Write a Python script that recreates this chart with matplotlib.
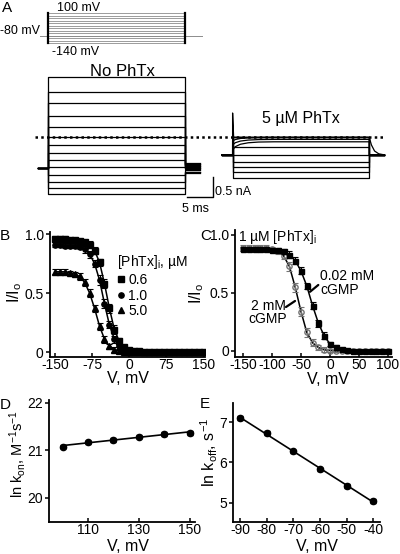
import numpy as np
import matplotlib
matplotlib.use("Agg")
import matplotlib.pyplot as plt

plt.rcParams['font.family'] = ['Liberation Sans', 'DejaVu Sans']
plt.rcParams['mathtext.fontset'] = 'custom'
plt.rcParams['mathtext.rm'] = 'Liberation Sans'
plt.rcParams['mathtext.it'] = 'Liberation Sans:italic'
plt.rcParams['axes.unicode_minus'] = False

# ---------------- data ----------------
# A: voltage protocol and current traces
step_mV = [100, 80, 60, 40, 20, 0, -20, -40, -60, -80, -100, -120, -140]
hold_mV = -80
pulse_ms = 26.3
noph_nA = [2.29, 1.92, 1.63, 1.32, 1.04, 0.79, 0.58, 0.39, 0.21, 0.04,
           -0.17, -0.34, -0.49, -0.65]
noph_tail = [0.13, 0.12, 0.10, 0.09, 0.07, 0.05, 0.03, 0.01, 0.0, -0.02,
             -0.05, -0.08, -0.10, -0.12]
phtx_nA = [0.44, 0.44, 0.44, 0.44, 0.44, 0.39, 0.33, 0.21, 0.0, -0.17,
           -0.29, -0.42, -0.57]
phtx_start = [0.44, 0.44, 0.44, 0.44, 0.35, 0.25, 0.125, 0.21, 0.0, -0.17,
              -0.29, -0.42, -0.57]
relax_ms = [0, 0.5, 1.5, 3, 5, 8]
relax_frac = [0, 0.4, 0.7, 0.88, 0.97, 1.0]
spike_nA = 1.05
tail_ms = [0, 0.4, 1.0, 1.8, 3.0]
tail_nA = [0.43, 0.25, 0.10, 0.03, 0.0]
scale_ms = 5
scale_nA = 0.5

# B: I/Io vs V for three [PhTx]
V_B = [-150, -140, -130, -120, -110, -100, -90, -80, -70, -60, -50, -40, -30,
       -20, -10, 0, 10, 20, 30, 40, 50, 60, 70, 80, 90, 100, 110, 120, 130,
       140, 150]
I_06 = [0.96, 0.96, 0.96, 0.95, 0.95, 0.94, 0.93, 0.91, 0.86, 0.76, 0.58,
        0.37, 0.19, 0.09, 0.04, 0.02, 0.01, 0.01, 0.0, 0.0, 0.0, 0.0, 0.0,
        0.0, 0.0, 0.0, 0.0, 0.0, 0.0, 0.0, 0.0]
e_06 = [0.02, 0.02, 0.02, 0.02, 0.02, 0.02, 0.02, 0.03, 0.03, 0.03, 0.04,
        0.04, 0.04, 0.03, 0.02, 0.01, 0.01, 0.01, 0.01, 0.01, 0.01, 0.01,
        0.01, 0.01, 0.01, 0.01, 0.01, 0.01, 0.01, 0.01, 0.01]
I_10 = [0.91, 0.91, 0.90, 0.90, 0.90, 0.89, 0.87, 0.83, 0.75, 0.61, 0.41,
        0.23, 0.11, 0.05, 0.02, 0.01, 0.0, 0.0, 0.0, 0.0, 0.0, 0.0, 0.0,
        0.0, 0.0, 0.0, 0.0, 0.0, 0.0, 0.0, 0.0]
e_10 = [0.02, 0.02, 0.02, 0.02, 0.02, 0.02, 0.03, 0.03, 0.03, 0.04, 0.04,
        0.03, 0.03, 0.02, 0.02, 0.01, 0.01, 0.01, 0.01, 0.01, 0.01, 0.01,
        0.01, 0.01, 0.01, 0.01, 0.01, 0.01, 0.01, 0.01, 0.01]
I_50 = [0.68, 0.68, 0.68, 0.67, 0.66, 0.64, 0.59, 0.50, 0.37, 0.22, 0.11,
        0.05, 0.02, 0.01, 0.0, 0.0, 0.0, 0.0, 0.0, 0.0, 0.0, 0.0, 0.0,
        0.0, 0.0, 0.0, 0.0, 0.0, 0.0, 0.0, 0.0]
e_50 = [0.02, 0.02, 0.02, 0.02, 0.02, 0.03, 0.03, 0.03, 0.03, 0.03, 0.03,
        0.02, 0.02, 0.01, 0.01, 0.01, 0.01, 0.01, 0.01, 0.01, 0.01, 0.01,
        0.01, 0.01, 0.01, 0.01, 0.01, 0.01, 0.01, 0.01, 0.01]

# C: 1 uM PhTx, two cGMP concentrations
V_C = [-150, -140, -130, -120, -110, -100, -90, -80, -70, -60, -50, -40, -30,
       -20, -10, 0, 10, 20, 30, 40, 50, 60, 70, 80, 90, 100]
I_low = [0.88, 0.88, 0.88, 0.88, 0.88, 0.87, 0.87, 0.86, 0.83, 0.78, 0.69,
         0.56, 0.39, 0.24, 0.13, 0.06, 0.03, 0.015, 0.007, 0.003, 0.0, 0.0,
         0.0, 0.0, 0.0, 0.0]
e_low = [0.02, 0.02, 0.02, 0.02, 0.02, 0.02, 0.02, 0.02, 0.03, 0.03, 0.03,
         0.03, 0.03, 0.03, 0.03, 0.02, 0.02, 0.01, 0.01, 0.01, 0.01, 0.01,
         0.01, 0.01, 0.01, 0.01]
I_high = [0.89, 0.89, 0.89, 0.89, 0.89, 0.88, 0.86, 0.82, 0.73, 0.55, 0.34,
          0.16, 0.07, 0.03, 0.01, 0.004, 0.0, 0.0, 0.0, 0.0, 0.0, 0.0, 0.0,
          0.0, 0.0, 0.0]
e_high = [0.02, 0.02, 0.02, 0.02, 0.02, 0.02, 0.02, 0.03, 0.04, 0.04, 0.04,
          0.04, 0.03, 0.02, 0.02, 0.01, 0.01, 0.01, 0.01, 0.01, 0.01, 0.01,
          0.01, 0.01, 0.01, 0.01]

# D: ln kon vs V
V_D = [100, 110, 120, 130, 140, 150]
lnkon = [21.08, 21.17, 21.22, 21.29, 21.34, 21.37]
e_kon = [0.04, 0.03, 0.04, 0.03, 0.04, 0.04]

# E: ln koff vs V
V_E = [-90, -80, -70, -60, -50, -40]
lnkoff = [7.10, 6.74, 6.27, 5.83, 5.41, 5.03]
e_koff = [0.05, 0.05, 0.04, 0.04, 0.05, 0.05]

W, H = 400, 554


def fx(px):
    return px / W


def fy(py):
    return 1 - py / H


fig = plt.figure(figsize=(4, 5.54), dpi=100)

# ---------------- panel A ----------------
t_lim = (-48 / 5.2, 352 / 5.2)
axP = fig.add_axes([0, fy(55), 1, 55 / H])
axP.set_xlim(t_lim)
axP.set_ylim(-236, 204)
axP.axis('off')
for v in step_mV:
    axP.plot([0, pulse_ms], [v, v], color='0.55', lw=0.6)
axP.plot([-1.6, pulse_ms + 3.4], [hold_mV, hold_mV], color='0.55', lw=0.7)
for t in [0, pulse_ms]:
    axP.plot([t, t], [min(step_mV), max(step_mV)], color='k', lw=1.6)

axA = fig.add_axes([0, fy(215), 1, 160 / H])
axA.set_xlim(t_lim)
axA.set_ylim((168.3 - 215) / 40, (168.3 - 55) / 40)
axA.axis('off')

# no toxin
for lev, tl in zip(noph_nA, noph_tail):
    t = [-1.9, 0, 0, pulse_ms, pulse_ms, pulse_ms + 2.9]
    y = [0, 0, lev, lev, tl, tl]
    axA.plot(t, y, color='k', lw=0.9)

# 5 uM PhTx, shifted right and up
T0 = 35.5
DY = 0.3325
for i, (lev, st) in enumerate(zip(phtx_nA, phtx_start)):
    t = [T0 - 2.1, T0]
    y = [0, 0]
    if i == 0:
        t += [T0, T0 + 0.2]
        y += [spike_nA, lev]
    t += [T0 + r for r in relax_ms] + [T0 + pulse_ms]
    y += [st + (lev - st) * f for f in relax_frac] + [lev]
    if i == 0:
        t += [T0 + pulse_ms + s for s in tail_ms]
        y += tail_nA
    else:
        t += [T0 + pulse_ms, T0 + pulse_ms + 2.8]
        y += [0, 0]
    axA.plot(t, np.array(y) + DY, color='k', lw=0.9)

dot_y = DY + phtx_nA[0]
axA.plot([-2.5, 64.4], [dot_y, dot_y], color='k', lw=1.8, ls=(0, (1, 1.3)))

# scale bar
sb_t = (212.7 - 48) / 5.2
sb_y = (168.3 - 196.7) / 40
axA.plot([sb_t - scale_ms, sb_t, sb_t], [sb_y, sb_y, sb_y + scale_nA],
         color='k', lw=1.0)

fig.text(fx(2), fy(8), 'A', fontsize=11, va='center')
fig.text(fx(57), fy(8), '100 mV', fontsize=9, va='center')
fig.text(fx(0), fy(31), '-80 mV', fontsize=9, va='center')
fig.text(fx(52), fy(52), '-140 mV', fontsize=9, va='center')
fig.text(fx(122), fy(72), 'No PhTx', fontsize=12, ha='center', va='center')
fig.text(fx(301), fy(118), '5 µM PhTx', fontsize=11.5, ha='center', va='center')
fig.text(fx(215), fy(192), '0.5 nA', fontsize=9, va='center')
fig.text(fx(195), fy(209), '5 ms', fontsize=9, ha='center', va='center')


def style(ax):
    for s in ['top', 'right']:
        ax.spines[s].set_visible(False)
    for s in ['left', 'bottom']:
        ax.spines[s].set_linewidth(1.3)
    ax.tick_params(labelsize=10, width=1.1, length=3, pad=1.5)
    ax.tick_params(axis='x', direction='in', pad=1.0)


ebkw = dict(elinewidth=0.8, capsize=2, capthick=0.8)

# ---------------- panel B ----------------
axB = fig.add_axes([fx(50), fy(357), 155 / W, 125 / H])
style(axB)
axB.set_xlim(-160, 153)
axB.set_ylim(-0.042, 1.017)
hb = []
for I, e, m in [(I_06, e_06, 's'), (I_10, e_10, 'o'), (I_50, e_50, '^')]:
    axB.plot(V_B, I, color='k', lw=1.1)
    eb = axB.errorbar(V_B, I, yerr=e, fmt=m, ms=3.8, color='k', ecolor='k', **ebkw)
    hb.append(eb[0])
axB.set_xticks([-150, -75, 0, 75, 150])
axB.set_yticks([0, 0.5, 1.0])
axB.set_yticklabels(['0', '0.5', '1.0'])
axB.set_xlabel('V, mV', fontsize=11.5)
axB.set_ylabel('I/I$_\\mathrm{o}$', fontsize=11.5)
axB.xaxis.set_label_coords(0.503, -0.115)
axB.yaxis.set_label_coords(-0.165, 0.52)
axB.legend(hb, ['0.6', '1.0', '5.0'], title='[PhTx]$_\\mathrm{i}$, µM',
           loc='upper left', bbox_to_anchor=(0.43, 0.83), frameon=False,
           fontsize=10, title_fontsize=10, handlelength=0.6,
           handletextpad=0.25, labelspacing=0.12, borderpad=0,
           borderaxespad=0, alignment='left')
fig.text(fx(0), fy(236), 'B', fontsize=11, va='center')

# ---------------- panel C ----------------
axC = fig.add_axes([fx(235), fy(357), 157 / W, 127 / H])
style(axC)
axC.set_xlim(-163.8, 106.9)
axC.set_ylim(-0.052, 1.043)
axC.plot(V_C, I_high, color='k', lw=1.1)
axC.plot(V_C, I_low, color='k', lw=1.1)
axC.errorbar(V_C, I_high, yerr=e_high, fmt='o', ms=3.8, mfc='none',
             mec='0.45', ecolor='0.45', **ebkw)
axC.errorbar(V_C, I_low, yerr=e_low, fmt='s', ms=3.6, color='k', ecolor='k', **ebkw)
axC.set_xticks([-150, -100, -50, 0, 50, 100])
axC.set_yticks([0, 0.5, 1.0])
axC.set_yticklabels(['0', '0.5', '1.0'])
axC.set_xlabel('V, mV', fontsize=11.5)
axC.set_ylabel('I/I$_\\mathrm{o}$', fontsize=11.5)
axC.xaxis.set_label_coords(0.592, -0.115)
axC.yaxis.set_label_coords(-0.185, 0.504)
axC.annotate('', xy=(-34.5, 0.51), xytext=(-20.2, 0.569),
             arrowprops=dict(arrowstyle='-', lw=1.6, shrinkA=0, shrinkB=0))
axC.annotate('', xy=(-60.3, 0.431), xytext=(-75.9, 0.379),
             arrowprops=dict(arrowstyle='-', lw=1.6, shrinkA=0, shrinkB=0))
fig.text(fx(238), fy(237), '1 µM [PhTx]$_\\mathrm{i}$', fontsize=10, va='center')
fig.text(fx(320), fy(269), '0.02 mM\ncGMP', fontsize=10, va='top', linespacing=1.0)
fig.text(fx(268), fy(299), '2 mM\ncGMP', fontsize=10, va='top', ha='center',
         linespacing=0.95)
fig.text(fx(200), fy(236), 'C', fontsize=11, va='center')

# ---------------- panel D ----------------
axD = fig.add_axes([fx(49), fy(522), 146 / W, 122 / H])
style(axD)
axD.set_xlim(94.7, 152)
axD.set_ylim(19.49, 22.06)
pD = np.polyfit(V_D, lnkon, 1)
axD.plot([V_D[0], V_D[-1]], np.polyval(pD, [V_D[0], V_D[-1]]), color='k', lw=1.2)
axD.errorbar(V_D, lnkon, yerr=e_kon, fmt='o', ms=4.5, color='k', ecolor='k',
             elinewidth=1.0, capsize=2.5, capthick=1.0)
axD.set_xticks([110, 130, 150])
axD.set_yticks([20, 21, 22])
axD.set_xlabel('V, mV', fontsize=11.5)
axD.set_ylabel('ln k$_\\mathrm{on}$, M$^\\mathrm{-1}$s$^\\mathrm{-1}$', fontsize=10.5)
axD.xaxis.set_label_coords(0.54, -0.14)
axD.yaxis.set_label_coords(-0.144, 0.555)
fig.text(fx(0), fy(405), 'D', fontsize=11, va='center')

# ---------------- panel E ----------------
axE = fig.add_axes([fx(233), fy(522), 147 / W, 119 / H])
style(axE)
axE.set_xlim(-92.6, -37.5)
axE.set_ylim(4.515, 7.475)
pE = np.polyfit(V_E, lnkoff, 1)
axE.plot([V_E[0], V_E[-1]], np.polyval(pE, [V_E[0], V_E[-1]]), color='k', lw=1.2)
axE.errorbar(V_E, lnkoff, yerr=e_koff, fmt='o', ms=4.5, color='k', ecolor='k',
             elinewidth=1.0, capsize=2.5, capthick=1.0)
axE.set_xticks(V_E)
axE.set_yticks([5, 6, 7])
axE.set_xlabel('V, mV', fontsize=11.5)
axE.set_ylabel('ln k$_\\mathrm{off}$, s$^\\mathrm{-1}$', fontsize=11.5)
axE.xaxis.set_label_coords(0.571, -0.14)
axE.yaxis.set_label_coords(-0.088, 0.588)
fig.text(fx(200), fy(404), 'E', fontsize=11, va='center')

fig.savefig('out.png', dpi=100)
